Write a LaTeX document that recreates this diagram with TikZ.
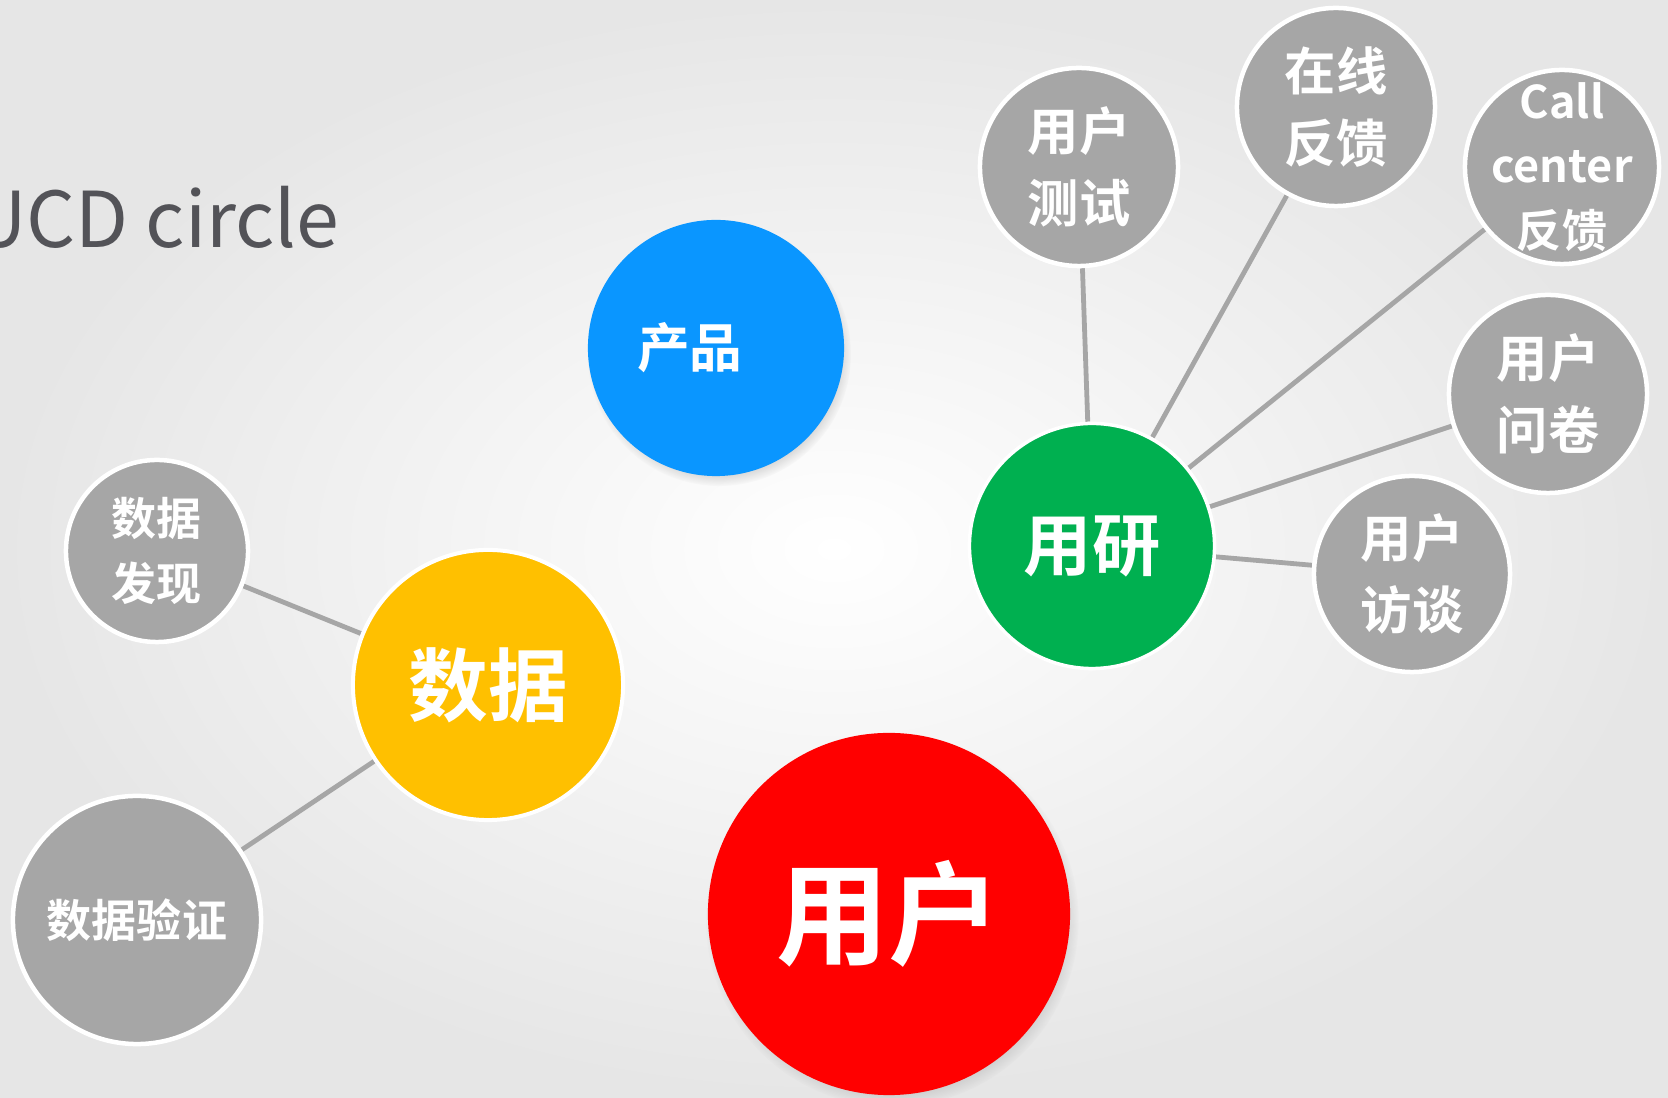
\documentclass[tikz,border=0pt]{standalone}
\usepackage{fontspec}
\usepackage{xcolor}
\usepackage{tikz}
\setmainfont{Noto Sans CJK SC}
\newfontfamily\boldcjk{Noto Sans CJK SC Bold}
\definecolor{prodblue}{RGB}{10, 150, 255}
\definecolor{researchgreen}{RGB}{0, 176, 80}
\definecolor{datayellow}{RGB}{255, 192, 0}
\definecolor{userred}{RGB}{255, 0, 0}
\definecolor{leafgray}{RGB}{166, 166, 166}
\definecolor{titlegray}{RGB}{83, 83, 88}
\definecolor{bggray}{RGB}{230, 230, 230}
\usetikzlibrary{shapes, positioning, backgrounds, shadows, fadings}

\begin{document}
\begin{tikzpicture}[
    x=0.01cm, y=-0.01cm,
    hub/.style={circle, inner sep=0pt, text=white},
    leaf/.style={circle, fill=leafgray, draw=white, line width=0.045cm, inner sep=0pt, text=white, align=center, font=\boldcjk\fontsize{14.6pt}{20.6pt}\selectfont},
    smallleaf/.style={leaf, font=\boldcjk\fontsize{12.8pt}{18.4pt}\selectfont},
    spoke/.style={draw=leafgray, line width=0.048cm},
    softshadow/.style={circular drop shadow={shadow scale=1.03, shadow xshift=0.03cm, shadow yshift=-0.06cm, opacity=0.45}}
]
    \useasboundingbox (0,0) rectangle (1668,1098);

    % centre circles
    \node[hub, fill=prodblue, minimum size=2.56cm, softshadow, font=\boldcjk\fontsize{15pt}{18pt}\selectfont] (prod) at (716,348) {产品\kern0.52cm};
    \node[hub, fill=researchgreen, draw=white, line width=0.035cm, minimum size=2.45cm, font=\boldcjk\fontsize{19.4pt}{23pt}\selectfont] (research) at (1092,546) {用研};
    \node[hub, fill=datayellow, draw=white, line width=0.04cm, minimum size=2.7cm, font=\boldcjk\fontsize{22.7pt}{27pt}\selectfont] (data) at (488,685) {数据};
    \node[hub, fill=userred, minimum size=3.62cm, softshadow, font=\boldcjk\fontsize{32pt}{38pt}\selectfont] (user) at (889,914) {用户};

    % outer circles
    \node[leaf, minimum size=1.98cm] (usertest) at (1079,167) {用户\\测试};
    \node[leaf, minimum size=1.98cm] (online) at (1336,107) {在线\\反馈};
    \node[smallleaf, minimum size=1.94cm, inner sep=-0.3cm] (callcenter) at (1562,167) {Call\\center\\反馈};
    \node[leaf, minimum size=1.98cm] (survey) at (1548,394) {用户\\问卷};
    \node[leaf, minimum size=1.96cm] (interview) at (1412,574) {用户\\访谈};
    \node[smallleaf, minimum size=1.82cm] (discover) at (157,551) {数据\\发现};
    \node[smallleaf, minimum size=2.48cm] (verify) at (137,920) {数据验证};

    \node[anchor=base east, inner sep=0pt, text=titlegray, font=\fontsize{21.9pt}{26pt}\selectfont] (title) at (340,248) {UCD circle};

    \begin{scope}[on background layer]
        \shade[inner color=white, outer color=bggray] (0,0) rectangle (1668,1098);
        \draw[spoke] (usertest) -- (research);
        \draw[spoke] (online) -- (research);
        \draw[spoke] (callcenter) -- (research);
        \draw[spoke] (survey) -- (research);
        \draw[spoke] (interview) -- (research);
        \draw[spoke] (discover) -- (data);
        \draw[spoke] (verify) -- (data);
    \end{scope}
\end{tikzpicture}
\end{document}
